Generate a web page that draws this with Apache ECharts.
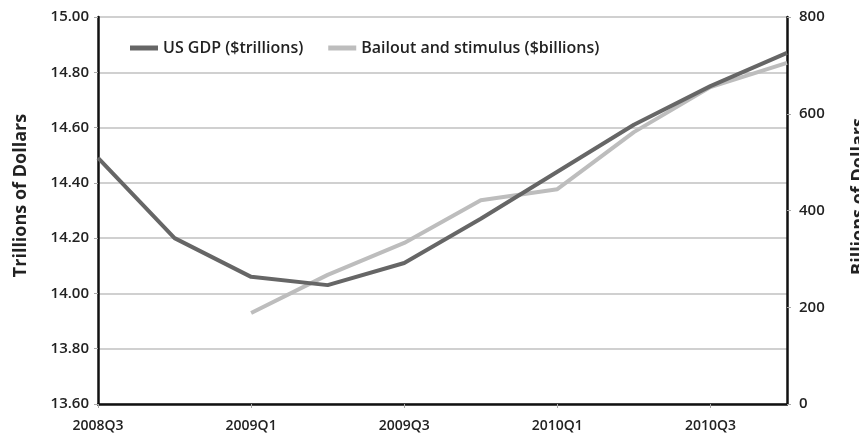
<!DOCTYPE html>
<html>
<head>
<meta charset="utf-8">
<script src="https://cdn.jsdelivr.net/npm/echarts@6/dist/echarts.min.js"></script>
<style>html,body{margin:0;padding:0;background:#fff;}#c{width:859px;height:435px;}</style>
</head>
<body>
<div id="c"></div>
<script>
const categories = ['2008Q3','2008Q4','2009Q1','2009Q2','2009Q3','2009Q4','2010Q1','2010Q2','2010Q3','2010Q4'];
const gdp = [14.49, 14.20, 14.06, 14.03, 14.11, 14.27, 14.44, 14.61, 14.75, 14.87];
const bailout = [null, null, 188, 267, 333, 421, 444, 562, 655, 705];
const leftTicks = [13.6, 15.0, 0.2];
const rightTicks = [0, 800, 200];

const chart = echarts.init(document.getElementById('c'));
const font = '"Open Sans", "DejaVu Sans", sans-serif';
chart.setOption({
  animation: false,
  backgroundColor: '#fff',
  grid: { left: 98, right: 72, top: 17, bottom: 31, containLabel: false, outerBoundsMode: 'none' },
  legend: {
    top: 35, left: 125,
    data: ['US GDP ($trillions)', 'Bailout and stimulus ($billions)'],
    icon: 'rect', itemWidth: 28, itemHeight: 5, itemGap: 25,
    textStyle: { fontFamily: font, fontSize: 16, fontWeight: 600, color: '#222' },
    backgroundColor: '#fff'
  },
  xAxis: {
    type: 'category', data: categories, boundaryGap: false,
    axisLine: { lineStyle: { color: '#111', width: 2.5 } },
    axisTick: { show: true, interval: 1, length: 4, lineStyle: { color: '#aaa' } },
    axisLabel: { interval: 1, color: '#222', fontFamily: font, fontSize: 14, fontWeight: 600, margin: 15 },
    splitLine: { show: false }
  },
  yAxis: [
    {
      type: 'value', min: leftTicks[0], max: leftTicks[1], interval: leftTicks[2],
      name: 'Trillions of Dollars', nameLocation: 'middle', nameGap: 68, nameRotate: 90,
      nameTextStyle: { fontFamily: font, fontSize: 18, fontWeight: 700, color: '#222', padding: [0, 0, 0, 30] },
      axisLine: { show: true, lineStyle: { color: '#111', width: 2.5 } },
      axisTick: { show: true, length: 4, lineStyle: { color: '#aaa' } },
      axisLabel: { color: '#222', fontFamily: font, fontSize: 15, fontWeight: 600, margin: 9,
        formatter: v => v.toFixed(2) },
      splitLine: { show: true, lineStyle: { color: '#d0d0d0', width: 2 } }
    },
    {
      type: 'value', min: rightTicks[0], max: rightTicks[1], interval: rightTicks[2], position: 'right',
      name: 'Billions of Dollars', nameLocation: 'middle', nameGap: 63, nameRotate: 90,
      nameTextStyle: { fontFamily: font, fontSize: 18, fontWeight: 700, color: '#222', padding: [0, 0, 0, 28] },
      axisLine: { show: true, lineStyle: { color: '#111', width: 2.5 } },
      axisTick: { show: true, length: 4, lineStyle: { color: '#aaa' } },
      axisLabel: { color: '#222', fontFamily: font, fontSize: 15, fontWeight: 600, margin: 12 },
      splitLine: { show: false }
    }
  ],
  series: [
    {
      name: 'Bailout and stimulus ($billions)', type: 'line', yAxisIndex: 1, data: bailout,
      showSymbol: false, symbol: 'none', lineStyle: { color: '#bdbdbd', width: 4 }, itemStyle: { color: '#bdbdbd' }, z: 2
    },
    {
      name: 'US GDP ($trillions)', type: 'line', yAxisIndex: 0, data: gdp,
      showSymbol: false, symbol: 'none', lineStyle: { color: '#666', width: 4 }, itemStyle: { color: '#666' }, z: 3
    }
  ]
});
</script>
</body>
</html>
